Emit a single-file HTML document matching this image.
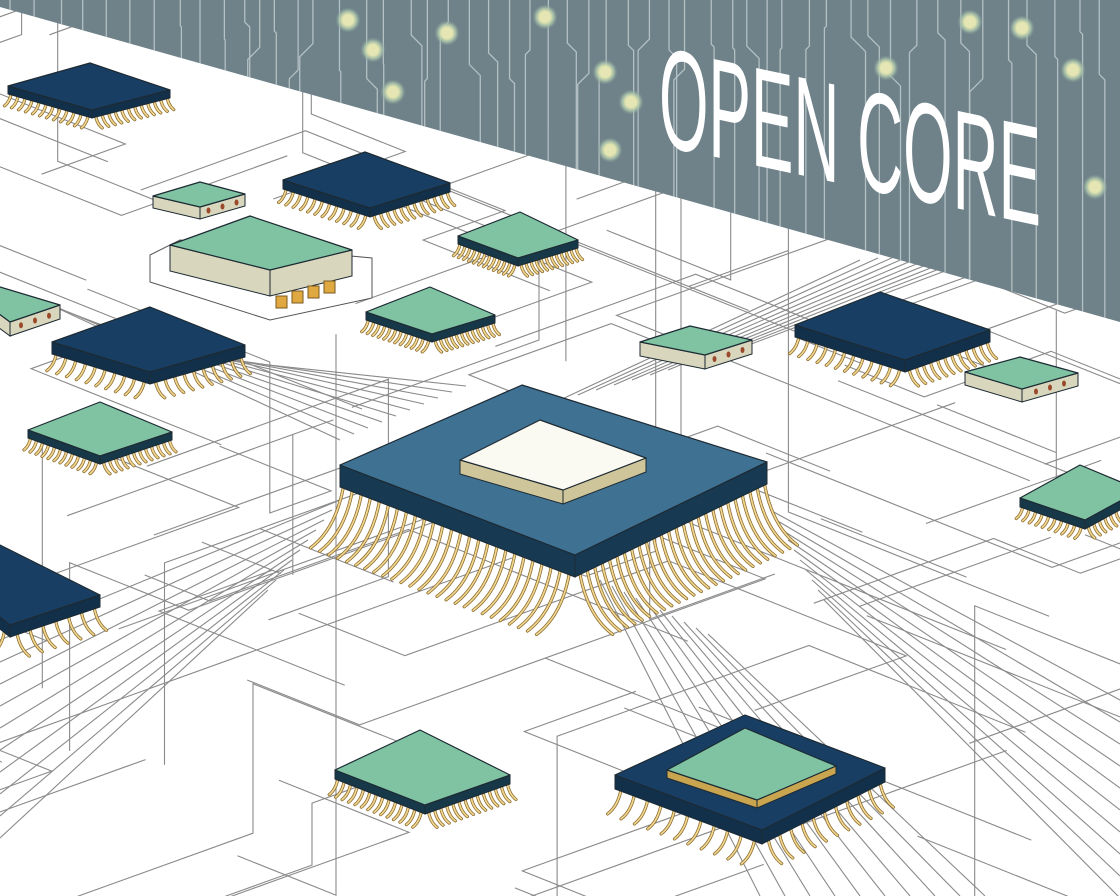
<!DOCTYPE html>
<html><head><meta charset="utf-8"><style>
html,body{margin:0;padding:0;background:#fff;width:1120px;height:896px;overflow:hidden}
svg{display:block;overflow:hidden}
</style></head><body>
<svg id="s" width="1120" height="896" viewBox="0 0 1120 896" xmlns="http://www.w3.org/2000/svg">
<defs>
<radialGradient id="glow"><stop offset="0" stop-color="#eef0c0"/><stop offset="0.45" stop-color="#dfe3b0"/><stop offset="0.7" stop-color="#a9c4ac" stop-opacity="0.8"/><stop offset="1" stop-color="#7f9690" stop-opacity="0"/></radialGradient>
<clipPath id="wallclip"><polygon points="0,0 1120,0 1120,322 0,7"/></clipPath>
<clipPath id="frame"><rect width="1120" height="896"/></clipPath>
</defs>
<g clip-path="url(#frame)">
<rect width="1120" height="896" fill="#fff"/>
<g id="traces" fill="none" stroke="#8a8a8a" stroke-width="1.1"></g>
<polygon points="0,0 1120,0 1120,322 0,7" fill="#6f8189"/>
<g id="walltr" clip-path="url(#wallclip)" fill="none" stroke="#b3c0c4" stroke-width="1.3"></g>
<g id="dots" clip-path="url(#wallclip)"></g>
<g transform="translate(659,0) skewY(12)">
<text x="0" y="145" font-family="Liberation Sans, sans-serif" font-size="142" fill="#fff" textLength="382" lengthAdjust="spacingAndGlyphs">OPEN CORE</text>
</g>
<g id="chips"></g>
</g>
</svg>
<script>
var NS="http://www.w3.org/2000/svg";
function el(p,t,a){var e=document.createElementNS(NS,t);for(var k in a)e.setAttribute(k,a[k]);p.appendChild(e);return e;}
var tr=document.getElementById('traces'),wt=document.getElementById('walltr'),dots=document.getElementById('dots'),ch=document.getElementById('chips');
var seed=7;function rnd(){seed=(seed*16807)%2147483647;return seed/2147483647;}
var dirs=[[1,-0.36],[1,0.4],[0,1],[1,0]];
for(var i=0;i<70;i++){
 var x=rnd()*1120,y=60+rnd()*840;
 if(y<x*0.28+20)continue;
 var pts=[[x,y]];var d=rnd()<0.5?0:1;
 for(var j=0;j<4;j++){
  var L=60+rnd()*220;var dd=dirs[d];
  var s=rnd()<0.5?1:-1;
  x+=dd[0]*L*s;y+=dd[1]*L*s;pts.push([x,y]);
  d=(rnd()<0.5)?(d===0?1:0):(rnd()<0.5?2:d);
 }
 el(tr,'polyline',{points:pts.map(function(p){return p[0].toFixed(1)+','+p[1].toFixed(1)}).join(' ')});
}
for(var k=0;k<10;k++){
 el(tr,'polyline',{points:(340-k*8)+','+(500+k*10)+' '+(0)+','+(640+k*22)});
 el(tr,'polyline',{points:(770+k*6)+','+(510+k*10)+' '+(1120)+','+(700+k*22)});
 el(tr,'polyline',{points:(600+k*12)+','+(580+k*6)+' '+(760+k*25)+','+(896)});
 el(tr,'polyline',{points:(340+k*14)+','+(440-k*6)+' '+(40+k*14)+','+(300-k*4+k*10)});
 el(tr,'polyline',{points:(560+k*18)+','+(400-k*5)+' '+(860+k*18)+','+(260-k*2)});
}
for(var x=10;x<1120;x+=14+rnd()*14){
 var yb=x*0.2866+7;var pts=[[x,0]];var cx=x,cy=rnd()*60+20;pts.push([cx,cy]);
 var b=(rnd()-0.5)*30;cx+=b;cy+=Math.abs(b);pts.push([cx,cy]);cy=yb+30;pts.push([cx,cy]);
 el(wt,'polyline',{points:pts.map(function(p){return p.join(',')}).join(' ')});
}
var dl=[[348,20],[373,50],[447,33],[545,17],[605,72],[631,102],[610,150],[393,92],[886,68],[970,22],[1022,28],[1073,70],[1095,187]];
dl.forEach(function(p){el(dots,'circle',{cx:p[0],cy:p[1],r:13,fill:'url(#glow)'});el(dots,'circle',{cx:p[0],cy:p[1],r:5,fill:'#e6e6b4'});});
function P(a){return a.map(function(p){return p[0]+','+p[1]}).join(' ');}
function pins(A,B,th,n,len,outx){
 for(var i=0;i<n;i++){var t=(i+0.5)/n;var x=A[0]+(B[0]-A[0])*t,y=A[1]+(B[1]-A[1])*t+th*0.6;
  var ex=x+outx*len*0.5,ey=y+len;
  el(ch,'path',{d:'M'+x+','+y+' Q'+(x+outx*len*0.1)+','+(y+len*0.7)+' '+ex+','+ey,stroke:'#8a6a2a','stroke-width':3.2,fill:'none','stroke-linecap':'round'});
  el(ch,'path',{d:'M'+x+','+y+' Q'+(x+outx*len*0.1)+','+(y+len*0.7)+' '+ex+','+ey,stroke:'#f0d690','stroke-width':1.7,fill:'none','stroke-linecap':'round'});
 }
}
function chip(L,T,R,B,th,top,side,np,plen){
 function d(p){return [p[0],p[1]+th];}
 if(np){pins(L,B,th,np,plen,-1);pins(B,R,th,np,plen,1);}
 el(ch,'polygon',{points:P([L,B,d(B),d(L)]),fill:side,stroke:'#1d2a33','stroke-width':1});
 el(ch,'polygon',{points:P([B,R,d(R),d(B)]),fill:side,stroke:'#1d2a33','stroke-width':1});
 el(ch,'polygon',{points:P([L,T,R,B]),fill:top,stroke:'#1d2a33','stroke-width':1.2,'stroke-linejoin':'round'});
}
var DK='#183f63',DS='#12304a',GR='#7fc3a3',GS='#173848',BE='#d8d6bc';
chip([8,86],[90,63],[170,90],[92,110],8,DK,DS,12,14);
chip([283,180],[365,152],[450,183],[370,208],9,DK,DS,12,16);
function box(L,T,R,B,th){chip(L,T,R,B,th,GR,BE,0,0);var m=[(B[0]+R[0])/2,(B[1]+R[1])/2+th/2];
 for(var i=-1;i<=1;i++)el(ch,'ellipse',{cx:m[0]+i*14,cy:m[1]+i*(R[1]-B[1])/ (R[0]-B[0])*14,rx:2,ry:3,fill:'#9a4a2a'});}
box([153,196],[200,182],[245,194],[200,207],12);
box([640,342],[690,326],[752,340],[705,355],14);
box([965,372],[1020,357],[1078,373],[1022,389],13);
box([-20,300],[0,287],[60,305],[10,322],14);
el(ch,'polygon',{points:'150,255 180,240 372,258 372,298 270,320 150,282',fill:'#fff',stroke:'#555','stroke-width':1});
chip([170,245],[250,216],[352,250],[270,270],26,GR,BE,0,0);
for(var i=0;i<4;i++)el(ch,'rect',{x:276+i*16,y:296-i*5,width:11,height:12,fill:'#e0a840',stroke:'#7a5a20'});
chip([458,236],[520,212],[578,240],[518,258],8,GR,GS,12,14);
chip([366,312],[430,287],[495,315],[432,334],8,GR,GS,12,14);
chip([52,342],[150,307],[245,345],[150,372],12,DK,DS,10,20);
chip([28,430],[100,402],[172,432],[100,456],8,GR,GS,12,14);
chip([-60,570],[0,545],[100,595],[10,625],12,DK,DS,7,26);
chip([340,465],[522,385],[767,462],[575,555],22,'#3f7193','#173a52',26,68);
chip([460,460],[540,420],[646,458],[563,490],14,'#fbfaf2','#cfc59a',0,0);
chip([795,325],[880,292],[990,330],[905,360],12,DK,DS,12,20);
chip([615,775],[745,715],[885,768],[762,830],14,DK,DS,11,28);
chip([667,770],[745,728],[836,766],[757,800],8,GR,'#c9a550',0,0);
chip([335,770],[420,730],[510,775],[425,805],9,GR,GS,14,18);
chip([1020,498],[1080,465],[1140,490],[1085,520],9,GR,GS,10,14);
</script>
</body></html>
